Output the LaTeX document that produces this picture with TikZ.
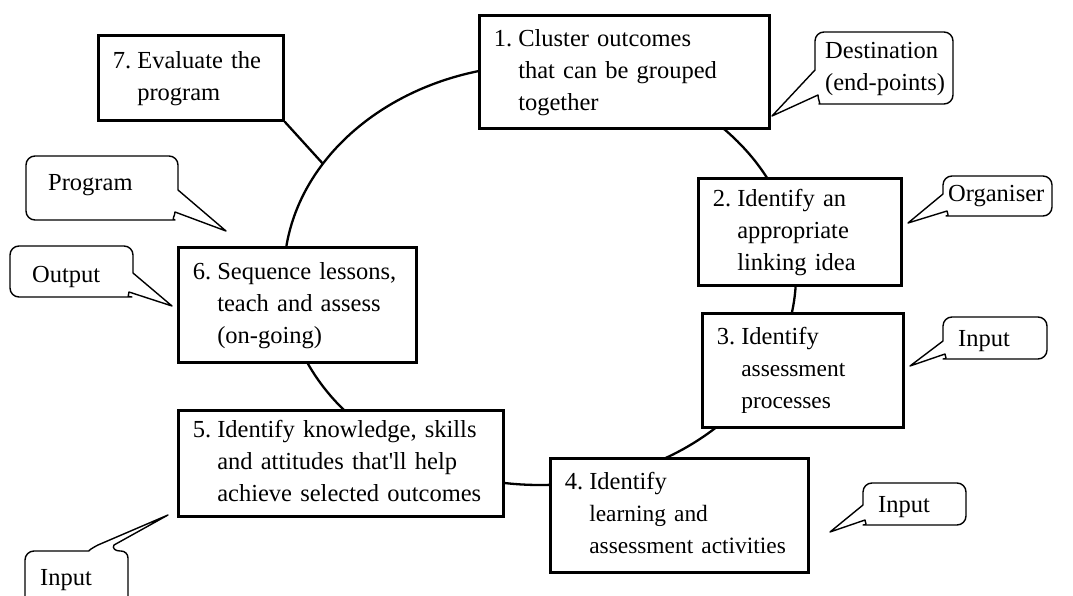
\documentclass[tikz,border=0pt]{standalone}
\usepackage{fontspec}
\setmainfont{Liberation Serif}
\usetikzlibrary{calc}

\tikzset{
  stagebox/.style={draw, fill=white, line width=2.6pt, anchor=north west,
    inner xsep=14.5pt, inner ysep=0pt, align=left,
    font=\fontsize{24.5}{32}\selectfont},
  cyclepath/.style={line width=2.3pt},
  bubble/.style={draw, line width=1.4pt, line join=round},
  bubbletext/.style={anchor=base west, inner sep=0pt,
    font=\fontsize{24.5}{32}\selectfont},
}
% numbered step text with hanging indent
\newcommand{\stepitem}[2]{\noindent\begin{tabular}{@{}l@{\hspace{.25em}}l@{}}#1&#2\end{tabular}}
\newcommand{\smallline}[1]{{\fontsize{23.4}{32}\selectfont #1}}

\begin{document}
\begin{tikzpicture}[x=1pt, y=-1pt]
\useasboundingbox (0,0) rectangle (1073,596);
\clip (0,0) rectangle (1073,596);

% the cycle behind the steps
\coordinate (ctr) at (540,275);
\draw[cyclepath] (ctr) ellipse [x radius=256pt, y radius=210pt];
\coordinate (j7) at ($(ctr)+(148:256pt and 210pt)$);

% steps
\node[stagebox, text width=261pt, minimum height=113pt] (s1) at (478,14)
  {\stepitem{1.}{Cluster outcomes\\&that can be grouped\\&together}};
\node[stagebox, text width=174pt, minimum height=107pt] (s2) at (697,177)
  {\stepitem{2.}{Identify an\\&appropriate\\&linking idea}};
\node[stagebox, text width=172pt, minimum height=114pt] (s3) at (701,312)
  {\stepitem{3.}{Identify\\&\smallline{assessment}\\&\smallline{processes}}};
\node[stagebox, text width=229pt, minimum height=114pt] (s4) at (549,457)
  {\stepitem{4.}{Identify\\&\smallline{learning and}\\&\smallline{assessment activities}}};
\node[stagebox, text width=296pt, minimum height=106pt] (s5) at (177,409)
  {\stepitem{5.}{Identify knowledge, skills\\&and attitudes that\textquotesingle ll help\\&achieve selected outcomes}};
\node[stagebox, text width=209pt, minimum height=115pt] (s6) at (177,246)
  {\stepitem{6.}{Sequence lessons,\\&teach and assess\\&(on-going)}};
\node[stagebox, text width=156pt, minimum height=85pt] (s7) at (97,34)
  {\stepitem{7.}{Evaluate the\\&program}};

\draw[cyclepath] (s7.south east) -- (j7);

% speech bubbles
\draw[bubble] (815,70) [rounded corners=9pt] -- (815,32) -- (953,32) -- (953,104) -- (828,104)
  [sharp corners] .. controls (821,104) and (818,100) .. (818,95) -- (772,116) -- cycle;
\node[bubbletext] (bdest) at (825,59)
  {\begin{tabular}[t]{@{}l@{}}Destination\\(end-points)\end{tabular}};

\draw[bubble] (943,194) [rounded corners=9pt] -- (943,176) -- (1052,176) -- (1052,216) -- (955,216)
  [sharp corners] .. controls (950,216) and (947,214) .. (947,211) -- (908,223) -- cycle;
\node[bubbletext] (borg) at (948,202) {Organiser};

\draw[bubble] (943,341) [rounded corners=9pt] -- (943,317) -- (1047,317) -- (1047,359) -- (952,359)
  [sharp corners] .. controls (948,359) and (945,357) .. (945,354) -- (910,366) -- cycle;
\node[bubbletext] (bin3) at (958,346) {Input};

\draw[bubble] (863,505) [rounded corners=9pt] -- (863,483) -- (966,483) -- (966,525) -- (872,525)
  [sharp corners] .. controls (868,525) and (865,523) .. (865,520) -- (830,532) -- cycle;
\node[bubbletext] (bin4) at (878,512) {Input};

\draw[bubble] (178,190) [rounded corners=9pt] -- (178,156) -- (26,156) -- (26,220) -- (166,220)
  [sharp corners] .. controls (171,220) and (175,216) .. (175,212) -- (226,231) -- cycle;
\node[bubbletext] (bprog) at (48,191) {Program};

\draw[bubble] (133,273) [rounded corners=9pt] -- (133,246) -- (10,246) -- (10,297) -- (123,297)
  [sharp corners] .. controls (126,297) and (129,295) .. (129,292) -- (172,306) -- cycle;
\node[bubbletext] (bout) at (32,282) {Output};

\draw[bubble] (25,605) [rounded corners=9pt] -- (25,551) -- (80,551)
  [sharp corners] .. controls (88,551) and (92,548) .. (98,545) -- (168,515) -- (114,545)
  .. controls (112,548) and (115,551) .. (120,551) [rounded corners=7pt] -- (128,551) -- (128,605);
\node[bubbletext] (bin5) at (40,585) {Input};
\end{tikzpicture}
\end{document}
